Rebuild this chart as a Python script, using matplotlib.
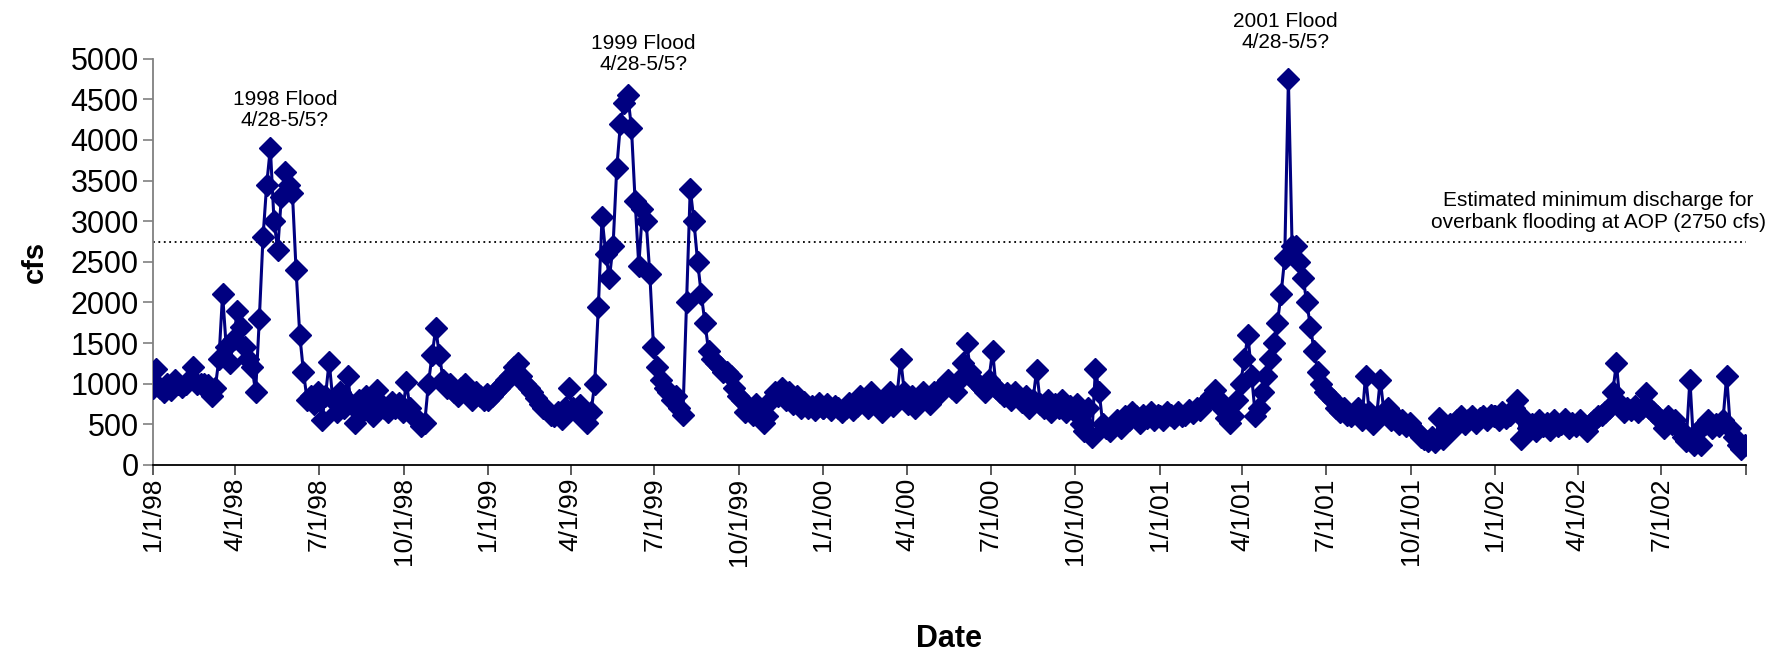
import pandas as pd
import matplotlib
matplotlib.use('Agg')
from matplotlib import pyplot as plt

plt.rcParams['font.family'] = ['Liberation Sans', 'DejaVu Sans']

# daily discharge (cfs), one reading every 4 days starting Jan 1 of each year
q_1998 = [950, 1180, 950, 900, 1000, 920, 1050, 1000, 960, 1000,
          1050, 1200, 1000, 1000, 1000, 980, 850, 950, 1300, 2100,
          1450, 1250, 1550, 1900, 1700, 1450, 1300, 1200, 900, 1800,
          2800, 3450, 3900, 3000, 2650, 3300, 3600, 3450, 3350, 2400,
          1600, 1150, 800, 850, 750, 900, 550, 850, 1270, 800,
          650, 900, 700, 1100, 750, 520, 800, 650, 850, 700,
          600, 920, 750, 700, 650, 780, 700, 760, 650, 1020,
          700, 600, 550, 480, 520, 1000, 1350, 1680, 1350, 1050,
          950, 1000, 900, 850, 950, 1000, 880, 800, 900, 850,
          800, 870]
q_1999 = [800, 850, 900, 950, 1000, 1050, 1100, 1200, 1250, 1100,
          1000, 950, 900, 820, 750, 700, 680, 620, 600, 650,
          560, 700, 950, 700, 650, 740, 620, 520, 650, 1000,
          1950, 3050, 2600, 2300, 2700, 3650, 4200, 4450, 4550, 4150,
          3250, 2450, 3150, 3000, 2350, 1450, 1200, 1050, 950, 900,
          800, 850, 700, 620, 2000, 3400, 3000, 2500, 2100, 1750,
          1400, 1300, 1250, 1200, 1150, 1150, 1100, 950, 850, 800,
          650, 700, 620, 750, 680, 520, 600, 800, 900, 850,
          950, 800, 900, 750, 850, 700, 780, 700, 720, 680,
          760, 700]
q_2000 = [700, 750, 680, 720, 700, 650, 700, 760, 680, 720,
          850, 800, 700, 900, 780, 700, 650, 800, 900, 720,
          850, 1300, 900, 750, 850, 700, 800, 900, 850, 750,
          900, 850, 950, 1000, 1050, 950, 900, 1050, 1250, 1500,
          1150, 1050, 1000, 950, 900, 1050, 1400, 950, 900, 850,
          880, 800, 900, 850, 780, 850, 700, 800, 1170, 750,
          700, 800, 650, 750, 700, 800, 650, 720, 680, 750,
          500, 420, 700, 350, 1180, 900, 500, 450, 420, 480,
          550, 450, 600, 550, 650, 600, 520, 620, 580, 650,
          550, 620]
q_2001 = [600, 550, 650, 620, 580, 650, 600, 620, 680, 640,
          700, 680, 750, 800, 850, 920, 800, 700, 580, 520,
          600, 800, 1000, 1300, 1600, 1100, 600, 700, 900, 1100,
          1300, 1500, 1750, 2100, 2550, 4750, 2700, 2700, 2500, 2300,
          2000, 1700, 1400, 1150, 1000, 900, 850, 800, 700, 650,
          700, 620, 600, 650, 700, 550, 1100, 650, 500, 600,
          1050, 650, 700, 550, 600, 500, 550, 480, 520, 450,
          400, 350, 320, 300, 350, 280, 580, 320, 400, 500,
          450, 550, 600, 500, 550, 600, 520, 580, 600, 550,
          620, 600]
q_2002 = [600, 550, 650, 580, 620, 700, 800, 320, 550, 450,
          500, 420, 550, 480, 520, 430, 550, 480, 500, 560,
          450, 520, 480, 550, 500, 420, 520, 550, 600, 620,
          650, 700, 900, 1250, 750, 650, 700, 680, 720, 650,
          700, 880, 700, 650, 600, 550, 450, 600, 500, 550,
          450, 350, 300, 1050, 250, 400, 250, 500, 550, 450,
          500, 480, 550, 1100, 450, 350, 250, 200, 250]

tick_labels = ['1/1/98', '4/1/98', '7/1/98', '10/1/98',
               '1/1/99', '4/1/99', '7/1/99', '10/1/99',
               '1/1/00', '4/1/00', '7/1/00', '10/1/00',
               '1/1/01', '4/1/01', '7/1/01', '10/1/01',
               '1/1/02', '4/1/02', '7/1/02', '']

umbral = 2750  # overbank flooding threshold (cfs)

fechas = []
caudal = []
for anio, q in [(1998, q_1998), (1999, q_1999), (2000, q_2000),
                (2001, q_2001), (2002, q_2002)]:
    fechas += list(pd.date_range(f'{anio}-01-01', periods=len(q), freq='4D'))
    caudal += q

fig = plt.figure(figsize=(17.74, 6.55), dpi=100)
ax = fig.add_axes([0.0861, 0.2901, 0.8981, 0.6203])

ax.axhline(umbral, color='black', lw=1.3, ls=(0, (1, 2)), zorder=1)
ax.plot(fechas, caudal, color='#000080', lw=2.2, marker='D', ms=11.5,
        mfc='#000080', mec='#000080', mew=1, zorder=3)

ax.set_ylim(0, 5000)
ax.set_yticks(range(0, 5001, 500))
ticks = pd.date_range('1998-01-01', '2002-10-01', freq='QS')
ax.set_xlim(ticks[0], ticks[-1])
ax.set_xticks(ticks)
ax.set_xticklabels(tick_labels, rotation=90)

for s in ['top', 'right']:
    ax.spines[s].set_visible(False)
ax.spines['left'].set_color('#808080')
ax.spines['left'].set_linewidth(1.3)
ax.spines['bottom'].set_color('black')
ax.spines['bottom'].set_linewidth(1.3)

ax.tick_params(axis='y', direction='out', length=7, width=1.2,
               color='#808080', labelsize=22, pad=3)
ax.tick_params(axis='x', direction='out', length=7, width=1.2,
               color='#404040', labelsize=19, pad=2)

ax.set_ylabel('cfs', fontsize=21, fontweight='bold', va='center')
ax.yaxis.set_label_coords(-0.074, 0.5)
ax.set_xlabel('Date', fontsize=22, fontweight='bold', va='center')
ax.xaxis.set_label_coords(0.5, -0.428)

# notas de las crecidas
ax.text(pd.Timestamp('1998-05-25'), 4370, '1998 Flood\n4/28-5/5?',
        ha='center', va='center', fontsize=15, linespacing=1.15)
ax.text(pd.Timestamp('1999-06-19'), 5060, '1999 Flood\n4/28-5/5?',
        ha='center', va='center', fontsize=15, linespacing=1.15)
ax.text(pd.Timestamp('2001-05-18'), 5330, '2001 Flood\n4/28-5/5?',
        ha='center', va='center', fontsize=15, linespacing=1.15)
ax.text(pd.Timestamp('2002-04-23'), 3120,
        'Estimated minimum discharge for\noverbank flooding at AOP (2750 cfs)',
        ha='center', va='center', fontsize=15, linespacing=1.15)

fig.savefig('out.png', dpi=100)
